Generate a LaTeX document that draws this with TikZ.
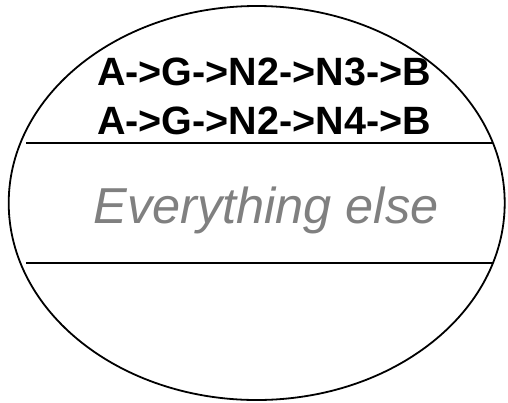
\documentclass[tikz,border=0pt]{standalone}
\usepackage{fontspec}
\setmainfont{Liberation Sans}
\usetikzlibrary{shapes.geometric}
\begin{document}
\begin{tikzpicture}[x=1pt,y=-1pt,
  oval/.style={draw=black, line width=1.8pt, ellipse, inner sep=0pt, minimum width=496pt, minimum height=394pt},
  divider/.style={draw=black, line width=1.8pt},
  pathtext/.style={anchor=base, inner sep=0pt, font=\fontsize{39.5}{39.5}\selectfont\bfseries},
  elsetext/.style={anchor=base, inner sep=0pt, text=black!50, font=\fontsize{50.5}{50.5}\selectfont\itshape}]
\useasboundingbox (0,0) rectangle (508,402);
\node[oval] (o) at (256.7,203) {};
\coordinate (l1a) at (26,143);
\coordinate (l1b) at (493,143);
\coordinate (l2a) at (26,263);
\coordinate (l2b) at (493,263);
\draw[divider] (l1a) -- (l1b);
\draw[divider] (l2a) -- (l2b);
\node[pathtext] (p1) at (264,85) {A->G->N2->N3->B};
\node[pathtext] (p2) at (264,134) {A->G->N2->N4->B};
\node[elsetext] (e) at (266,223) {Everything else};
\end{tikzpicture}
\end{document}
